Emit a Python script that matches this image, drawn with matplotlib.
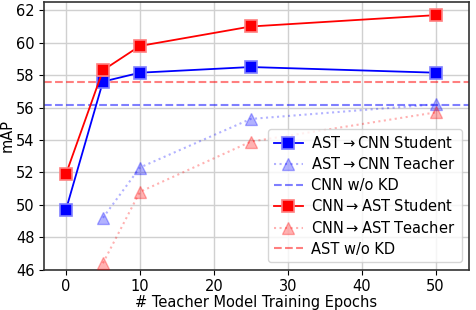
import numpy as np
import matplotlib.pyplot as plt

epochs = [0, 5, 10, 25, 50]
teacher_epochs = [5, 10, 25, 50]
ast_cnn_student = [49.7, 57.6, 58.15, 58.5, 58.15]
cnn_ast_student = [51.9, 58.3, 59.8, 61.0, 61.7]
ast_cnn_teacher = [49.2, 52.3, 55.3, 56.2]
cnn_ast_teacher = [46.4, 50.8, 53.9, 55.7]
cnn_wo_kd = 56.15
ast_wo_kd = 57.55

plt.rcParams['font.family'] = 'DejaVu Sans'
fig, ax = plt.subplots(figsize=(4.76, 3.10), dpi=100)

ax.plot(epochs, ast_cnn_student, color='blue', marker='s', markersize=8.5,
        markeredgecolor=(0.5, 0.5, 1.0), markeredgewidth=1.2, linewidth=1.3,
        label=r'AST$\rightarrow$CNN Student', zorder=5)
ax.plot(teacher_epochs, ast_cnn_teacher, color='blue', alpha=0.3, marker='^',
        markersize=8.5, linestyle=':', linewidth=1.5,
        label=r'AST$\rightarrow$CNN Teacher', zorder=4)
ax.axhline(cnn_wo_kd, color='blue', alpha=0.5, linestyle='--', linewidth=1.5,
           label='CNN w/o KD')
ax.plot(epochs, cnn_ast_student, color='red', marker='s', markersize=8.5,
        markeredgecolor=(1.0, 0.5, 0.5), markeredgewidth=1.2, linewidth=1.3,
        label=r'CNN$\rightarrow$AST Student', zorder=5)
ax.plot(teacher_epochs, cnn_ast_teacher, color='red', alpha=0.3, marker='^',
        markersize=8.5, linestyle=':', linewidth=1.5,
        label=r'CNN$\rightarrow$AST Teacher', zorder=4)
ax.axhline(ast_wo_kd, color='red', alpha=0.5, linestyle='--', linewidth=1.5,
           label='AST w/o KD')

ax.set_xlim(-3, 54.5)
ax.set_ylim(46, 62.5)
ax.set_xticks([0, 10, 20, 30, 40, 50])
ax.set_yticks(np.arange(46, 63, 2))
ax.tick_params(labelsize=10.5, pad=3)
ax.grid(True, color='#d0d0d0', linewidth=1.0)
for s in ax.spines.values():
    s.set_color('#333333')
    s.set_linewidth(1.2)
ax.set_xlabel('# Teacher Model Training Epochs', fontsize=10.5, labelpad=1)
ax.set_ylabel('mAP', fontsize=10.5, labelpad=1)
ax.legend(loc='lower right', fontsize=10.5, handlelength=2, labelspacing=0.38,
          handletextpad=0.6, borderpad=0.4)

fig.subplots_adjust(left=0.092, right=0.985, top=0.993, bottom=0.13)
fig.savefig('out.png', dpi=100)
